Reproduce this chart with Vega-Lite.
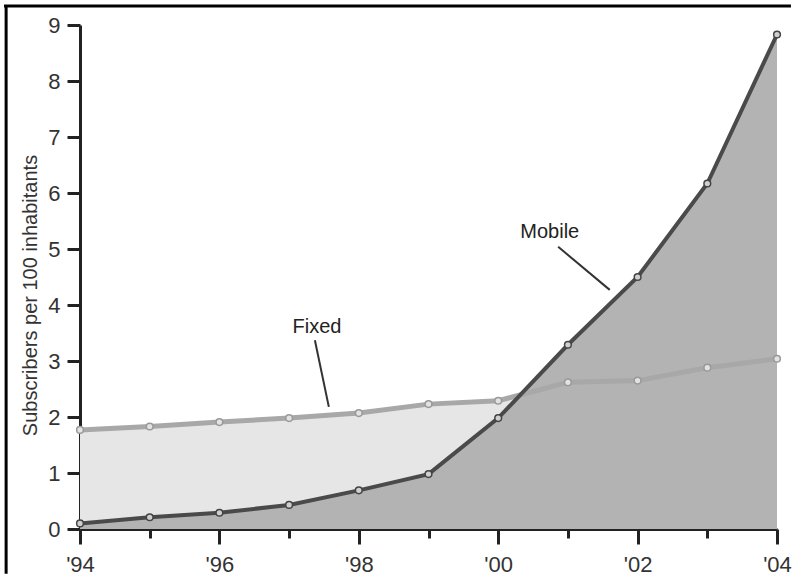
{
  "$schema": "https://vega.github.io/schema/vega-lite/v6.json",
  "width": 697,
  "height": 504,
  "autosize": {"type": "none"},
  "padding": {"left": 80, "top": 25, "right": 24, "bottom": 51},
  "background": "#ffffff",
  "config": {"view": {"stroke": null}, "font": "Liberation Sans"},
  "datasets": {
    "subs": [
      {"year": 1994, "series": "Mobile", "value": 0.1},
      {"year": 1995, "series": "Mobile", "value": 0.21},
      {"year": 1996, "series": "Mobile", "value": 0.29},
      {"year": 1997, "series": "Mobile", "value": 0.43},
      {"year": 1998, "series": "Mobile", "value": 0.69},
      {"year": 1999, "series": "Mobile", "value": 0.98},
      {"year": 2000, "series": "Mobile", "value": 1.98},
      {"year": 2001, "series": "Mobile", "value": 3.29},
      {"year": 2002, "series": "Mobile", "value": 4.5},
      {"year": 2003, "series": "Mobile", "value": 6.17},
      {"year": 2004, "series": "Mobile", "value": 8.83},
      {"year": 1994, "series": "Fixed", "value": 1.77},
      {"year": 1995, "series": "Fixed", "value": 1.83},
      {"year": 1996, "series": "Fixed", "value": 1.91},
      {"year": 1997, "series": "Fixed", "value": 1.98},
      {"year": 1998, "series": "Fixed", "value": 2.07},
      {"year": 1999, "series": "Fixed", "value": 2.23},
      {"year": 2000, "series": "Fixed", "value": 2.29},
      {"year": 2001, "series": "Fixed", "value": 2.62},
      {"year": 2002, "series": "Fixed", "value": 2.65},
      {"year": 2003, "series": "Fixed", "value": 2.88},
      {"year": 2004, "series": "Fixed", "value": 3.04}
    ],
    "notes": [
      {"label": "Fixed", "tx": 1997.4, "ty": 3.61, "ax": 1997.37, "ay": 3.37, "bx": 1997.57, "by": 2.18},
      {"label": "Mobile", "tx": 2000.74, "ty": 5.3, "ax": 2000.86, "ay": 5.04, "bx": 2001.6, "by": 4.27}
    ]
  },
  "layer": [
    {
      "data": {"name": "subs"},
      "transform": [{"filter": "datum.series == 'Fixed'"}],
      "mark": {"type": "area", "color": "#e6e6e6"},
      "encoding": {
        "x": {
          "field": "year", "type": "quantitative",
          "scale": {"domain": [1994, 2004], "nice": false, "zero": false},
          "axis": {
            "values": [1994, 1995, 1996, 1997, 1998, 1999, 2000, 2001, 2002, 2003, 2004],
            "labelExpr": "datum.value % 2 == 0 ? \"'\" + substring(toString(datum.value), 2) : ''",
            "title": null,
            "grid": false,
            "domainColor": "#222222",
            "domainWidth": 3,
            "tickColor": "#222222",
            "tickWidth": 3,
            "tickSize": {"condition": {"test": "datum.value % 2 == 1", "value": 9}, "value": 15},
            "labelFontSize": 22,
            "labelColor": "#333333",
            "labelPadding": 10,
            "labelFlush": false,
            "labelOverlap": false
          }
        },
        "y": {
          "field": "value", "type": "quantitative",
          "scale": {"domain": [0, 9], "nice": false, "zero": false},
          "axis": {
            "values": [0, 1, 2, 3, 4, 5, 6, 7, 8, 9],
            "format": "d",
            "title": "Subscribers per 100 inhabitants",
            "titleFontSize": 20,
            "titleFontWeight": "normal",
            "titleColor": "#333333",
            "titlePadding": 7,
            "titleY": 270,
            "grid": false,
            "domainColor": "#222222",
            "domainWidth": 3,
            "tickColor": "#222222",
            "tickWidth": 3,
            "tickSize": 13,
            "labelFontSize": 22,
            "labelColor": "#333333",
            "labelPadding": 7,
            "labelOverlap": false
          }
        }
      }
    },
    {
      "data": {"name": "subs"},
      "transform": [{"filter": "datum.series == 'Mobile'"}],
      "mark": {"type": "area", "color": "#b3b3b3"},
      "encoding": {
        "x": {"field": "year", "type": "quantitative", "scale": {"domain": [1994, 2004], "nice": false, "zero": false}},
        "y": {"field": "value", "type": "quantitative", "scale": {"domain": [0, 9], "nice": false, "zero": false}}
      }
    },
    {
      "data": {"name": "subs"},
      "transform": [{"filter": "datum.series == 'Fixed'"}],
      "mark": {"type": "line", "color": "#a8a8a8", "strokeWidth": 5},
      "encoding": {
        "x": {"field": "year", "type": "quantitative", "scale": {"domain": [1994, 2004], "nice": false, "zero": false}},
        "y": {"field": "value", "type": "quantitative", "scale": {"domain": [0, 9], "nice": false, "zero": false}}
      }
    },
    {
      "data": {"name": "subs"},
      "transform": [{"filter": "datum.series == 'Mobile'"}],
      "mark": {"type": "line", "color": "#4a4a4a", "strokeWidth": 4},
      "encoding": {
        "x": {"field": "year", "type": "quantitative", "scale": {"domain": [1994, 2004], "nice": false, "zero": false}},
        "y": {"field": "value", "type": "quantitative", "scale": {"domain": [0, 9], "nice": false, "zero": false}}
      }
    },
    {
      "data": {"name": "subs"},
      "transform": [{"filter": "datum.series == 'Fixed'"}],
      "mark": {"type": "point", "shape": "circle", "size": 45, "filled": false, "fill": "#e2e2e2", "fillOpacity": 1, "stroke": "#999999", "strokeWidth": 1.5, "opacity": 1},
      "encoding": {
        "x": {"field": "year", "type": "quantitative", "scale": {"domain": [1994, 2004], "nice": false, "zero": false}},
        "y": {"field": "value", "type": "quantitative", "scale": {"domain": [0, 9], "nice": false, "zero": false}}
      }
    },
    {
      "data": {"name": "subs"},
      "transform": [{"filter": "datum.series == 'Mobile'"}],
      "mark": {"type": "point", "shape": "circle", "size": 45, "filled": false, "fill": "#cfcfcf", "fillOpacity": 1, "stroke": "#444444", "strokeWidth": 1.5, "opacity": 1},
      "encoding": {
        "x": {"field": "year", "type": "quantitative", "scale": {"domain": [1994, 2004], "nice": false, "zero": false}},
        "y": {"field": "value", "type": "quantitative", "scale": {"domain": [0, 9], "nice": false, "zero": false}}
      }
    },
    {
      "data": {"name": "notes"},
      "mark": {"type": "rule", "color": "#333333", "strokeWidth": 2},
      "encoding": {
        "x": {"field": "ax", "type": "quantitative", "scale": {"domain": [1994, 2004], "nice": false, "zero": false}},
        "y": {"field": "ay", "type": "quantitative", "scale": {"domain": [0, 9], "nice": false, "zero": false}},
        "x2": {"field": "bx"},
        "y2": {"field": "by"}
      }
    },
    {
      "data": {"name": "notes"},
      "mark": {"type": "text", "fontSize": 20, "color": "#222222", "align": "center", "baseline": "middle"},
      "encoding": {
        "x": {"field": "tx", "type": "quantitative", "scale": {"domain": [1994, 2004], "nice": false, "zero": false}},
        "y": {"field": "ty", "type": "quantitative", "scale": {"domain": [0, 9], "nice": false, "zero": false}},
        "text": {"field": "label"}
      }
    },
    {
      "data": {"values": [{}]},
      "mark": {"type": "rule", "color": "#000000", "strokeWidth": 3},
      "encoding": {
        "x": {"datum": 1992.94, "type": "quantitative", "scale": {"domain": [1994, 2004], "nice": false, "zero": false}},
        "y": {"datum": 9.34, "type": "quantitative", "scale": {"domain": [0, 9], "nice": false, "zero": false}},
        "y2": {"datum": -0.8}
      }
    },
    {
      "data": {"values": [{}]},
      "mark": {"type": "rule", "color": "#000000", "strokeWidth": 3},
      "encoding": {
        "x": {"datum": 1992.91, "type": "quantitative", "scale": {"domain": [1994, 2004], "nice": false, "zero": false}},
        "x2": {"datum": 2004.2},
        "y": {"datum": 9.34, "type": "quantitative", "scale": {"domain": [0, 9], "nice": false, "zero": false}}
      }
    }
  ]
}
